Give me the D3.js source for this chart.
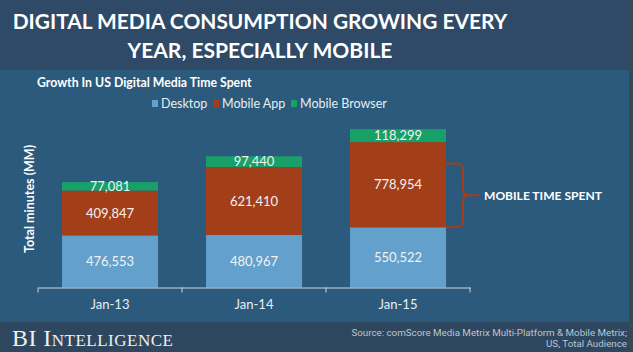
<!DOCTYPE html>
<html>
<head>
<meta charset="utf-8">
<script src="https://cdn.jsdelivr.net/npm/d3@7"></script>
<style>
  body { margin: 0; background: #2b5a7c; }
  svg { display: block; }
</style>
</head>
<body>
<script>
// data
const years = ["Jan-13", "Jan-14", "Jan-15"]
const desktop = [476553, 480967, 550522]
const mobileApp = [409847, 621410, 778954]
const mobileBrowser = [77081, 97440, 118299]
const seriesNames = ["Desktop", "Mobile App", "Mobile Browser"]
const seriesColors = ["#64a0cc", "#a23f19", "#17a067"]

const W = 633, H = 352
const svg = d3.select("body").append("svg").attr("width", W).attr("height", H)
const font = "Lato, 'Open Sans', sans-serif"

// make a text exactly w px wide by tuning its font size
function fit(sel, w) {
  const fs = parseFloat(sel.attr("font-size"))
  const len = sel.node().getComputedTextLength()
  sel.attr("font-size", fs * w / len)
}

// backgrounds
svg.append("rect").attr("width", W).attr("height", 70).attr("fill", "#2f4a66")
svg.append("rect").attr("y", 70).attr("width", W).attr("height", 252).attr("fill", "#2b5a7c")
svg.append("rect").attr("y", 322).attr("width", W).attr("height", 30).attr("fill", "#2f475e")
svg.append("rect").attr("x", 629).attr("width", 4).attr("height", H).attr("fill", "#3c4750")

// title
const t1 = svg.append("text").attr("x", 260).attr("y", 29).attr("text-anchor", "middle")
  .attr("font-family", font).attr("font-weight", "bold").attr("font-size", 22).attr("fill", "#fff")
  .text("DIGITAL MEDIA CONSUMPTION GROWING EVERY")
fit(t1, 495)
const t2 = svg.append("text").attr("x", 260).attr("y", 58).attr("text-anchor", "middle")
  .attr("font-family", font).attr("font-weight", "bold").attr("font-size", 22).attr("fill", "#fff")
  .text("YEAR, ESPECIALLY MOBILE")
fit(t2, 265)

const sub = svg.append("text").attr("x", 37).attr("y", 87)
  .attr("font-family", font).attr("font-weight", "bold").attr("font-size", 12).attr("fill", "#fff")
  .text("Growth In US Digital Media Time Spent")
fit(sub, 215)

// legend
const legX = [152, 213, 291]
const leg = svg.selectAll(".leg").data(seriesNames).enter().append("g")
  .attr("transform", (d, i) => `translate(${legX[i]},100)`)
leg.append("rect").attr("width", 6).attr("height", 7).attr("fill", (d, i) => seriesColors[i])
leg.append("text").attr("x", 9).attr("y", 8)
  .attr("font-family", font).attr("font-size", 12.5).attr("fill", "#e8eef2")
  .text(d => d)

// scales
const x = d3.scaleBand().domain(years).range([38, 470]).paddingInner(1 / 3).paddingOuter(1 / 6)
const y = d3.scaleLinear().domain([0, 1600000]).range([287.5, 112.5])

const rows = years.map((yr, i) => ({ year: yr, Desktop: desktop[i], "Mobile App": mobileApp[i], "Mobile Browser": mobileBrowser[i] }))
const stack = d3.stack().keys(seriesNames)(rows)

const layers = svg.selectAll(".layer").data(stack).enter().append("g")
  .attr("fill", (d, i) => seriesColors[i])
layers.selectAll("rect").data(d => d).enter().append("rect")
  .attr("x", d => x(d.data.year))
  .attr("width", x.bandwidth())
  .attr("y", d => y(d[1]))
  .attr("height", d => y(d[0]) - y(d[1]))

layers.selectAll("text").data(d => d).enter().append("text")
  .attr("x", d => x(d.data.year) + x.bandwidth() / 2)
  .attr("y", d => (y(d[0]) + y(d[1])) / 2)
  .attr("dy", "0.36em")
  .attr("text-anchor", "middle")
  .attr("font-family", font).attr("font-size", 13).attr("fill", "#f2f2f2")
  .text(d => d3.format(",")(d[1] - d[0]))

// x axis
const ax = svg.append("g").attr("transform", "translate(0,287.5)")
  .call(d3.axisBottom(x).tickSize(0).tickPadding(12))
ax.select(".domain").attr("stroke", "#c9d6e0")
ax.selectAll("text").attr("font-family", font).attr("font-size", 13).attr("fill", "#e8eef2")
const edges = years.map(d => x(d) - (x.step() - x.bandwidth()) / 2).concat([x.range()[1]])
ax.selectAll(".edge").data(edges).enter().append("line")
  .attr("x1", d => d).attr("x2", d => d).attr("y1", 0).attr("y2", 5)
  .attr("stroke", "#c9d6e0")

// y label
svg.append("text").attr("transform", "translate(34,199) rotate(-90)")
  .attr("text-anchor", "middle")
  .attr("font-family", font).attr("font-weight", "bold").attr("font-size", 12.5).attr("fill", "#fff")
  .text("Total minutes (MM)")

// bracket for mobile time
const last = years.length - 1
const bx0 = x(years[last]) + x.bandwidth()
const bTop = y(desktop[last] + mobileApp[last] * 0.75)
const bBot = y(desktop[last])
const bMid = (bTop + bBot) / 2
const bx1 = bx0 + 17, r = 6
const p = d3.path()
p.moveTo(bx0, bTop)
p.lineTo(bx1 - r, bTop)
p.quadraticCurveTo(bx1, bTop, bx1, bTop + r)
p.lineTo(bx1, bMid - r)
p.quadraticCurveTo(bx1, bMid, bx1 + r, bMid)
p.lineTo(bx1 + 17, bMid)
p.moveTo(bx1 + r, bMid)
p.quadraticCurveTo(bx1, bMid, bx1, bMid + r)
p.lineTo(bx1, bBot - r)
p.quadraticCurveTo(bx1, bBot, bx1 - r, bBot)
p.lineTo(bx0, bBot)
svg.append("path").attr("d", p.toString()).attr("fill", "none")
  .attr("stroke", seriesColors[1]).attr("stroke-width", 2)
const ann = svg.append("text").attr("x", bx1 + 21).attr("y", bMid).attr("dy", "0.36em")
  .attr("font-family", font).attr("font-weight", "bold").attr("font-size", 13).attr("fill", "#fff")
  .text("MOBILE TIME SPENT")
fit(ann, 118)

// footer
const bi = svg.append("text").attr("x", 12).attr("y", 346)
  .attr("font-family", "'Liberation Serif', 'DejaVu Serif', serif").attr("font-size", 20)
  .attr("font-variant", "small-caps").attr("fill", "#eef0f2").attr("letter-spacing", 0.5)
  .text("BI Intelligence")
fit(bi, 161)
const src1 = svg.append("text").attr("x", 627).attr("y", 336).attr("text-anchor", "end")
  .attr("font-family", "Roboto, sans-serif").attr("font-size", 9.5).attr("fill", "#b9c6d0")
  .text("Source: comScore Media Metrix Multi-Platform & Mobile Metrix;")
fit(src1, 276)
svg.append("text").attr("x", 627).attr("y", 347).attr("text-anchor", "end")
  .attr("font-family", "Roboto, sans-serif").attr("font-size", src1.attr("font-size")).attr("fill", "#b9c6d0")
  .text("US, Total Audience")
</script>
</body>
</html>
